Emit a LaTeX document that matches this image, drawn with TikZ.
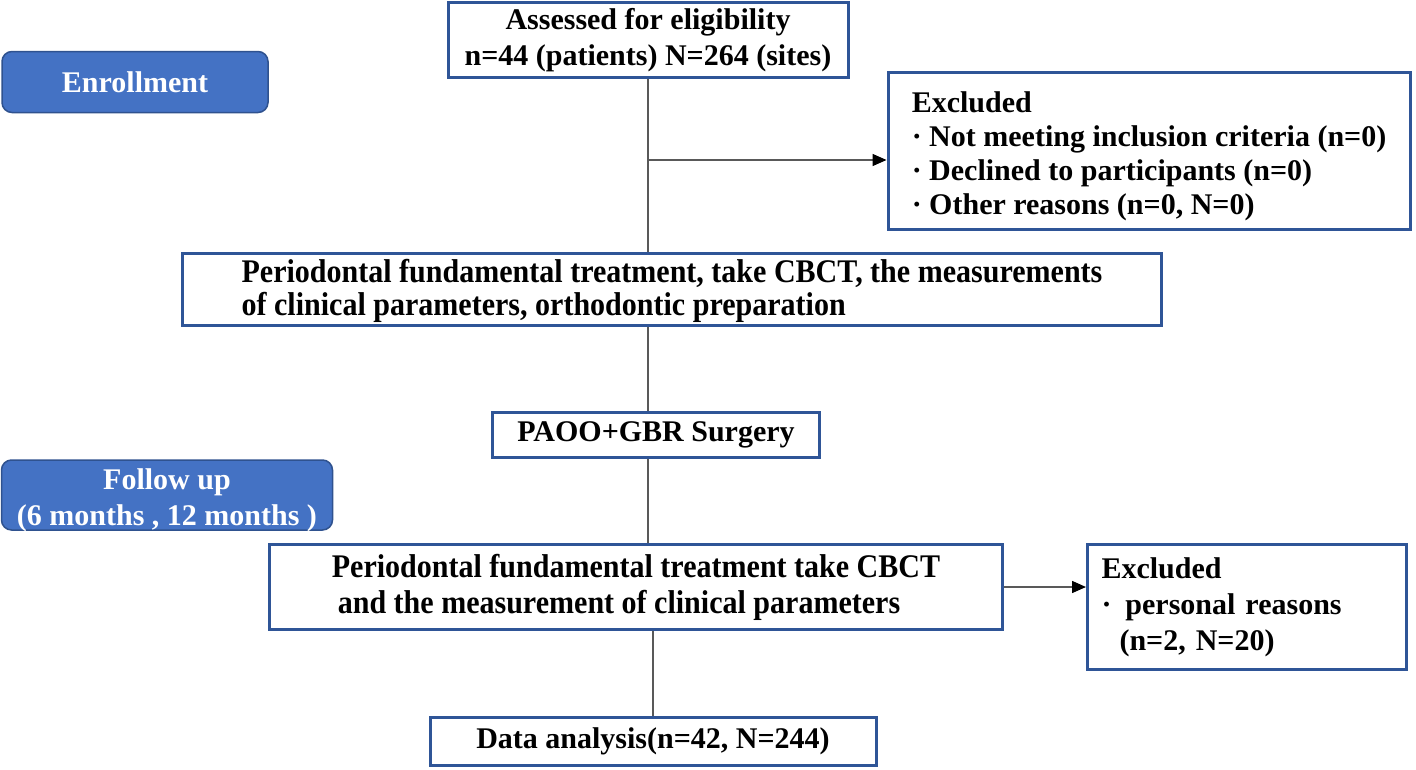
\documentclass[tikz,border=0pt]{standalone}
\usepackage{fontspec}
\setmainfont{Liberation Serif}
\newfontfamily\narrowfont[FakeStretch=0.91]{Liberation Serif}
\usetikzlibrary{arrows.meta}
\definecolor{boxblue}{HTML}{2F5597}
\definecolor{tagblue}{HTML}{4472C4}
\definecolor{tagedge}{HTML}{2F528F}
\definecolor{linegray}{HTML}{595959}
\newcommand{\lowered}[2]{\raisebox{-#1}[\height][\depth]{#2}}
\begin{document}
\begin{tikzpicture}[x=1pt,y=-1pt,
   font=\fontsize{30}{36}\selectfont\bfseries,
   stage/.style={draw=boxblue,line width=3pt,inner sep=0pt},
   tag/.style={draw=tagedge,fill=tagblue,line width=1.5pt,rounded corners=10pt,
      text=white,align=center,inner sep=0pt},
   link/.style={draw=linegray,line width=1.5pt},
   go/.style={link,-{Triangle[length=14pt,width=12pt,color=black]}}]
   \useasboundingbox (0,0) rectangle (1416,769);
   % Stage tags
   \node[tag,minimum width=266pt,minimum height=61pt] (enroll) at (135,82) {Enrollment};
   \node[tag,minimum width=331pt,minimum height=70pt] (follow) at (167,495)
      {\lowered{5pt}{Follow up}\\\lowered{5pt}{(6 months , 12 months )}};
   % Boxes
   \node[stage,minimum width=400pt,minimum height=75pt,align=center] (assess) at (648,40)
      {Assessed for eligibility\\n=44 (patients) N=264 (sites)};
   \node[stage,minimum width=522pt,minimum height=157pt,align=left,
      font=\fontsize{30}{34}\selectfont\bfseries] (excl1) at (1149,151)
      {\lowered{5pt}{Excluded}\\\lowered{5pt}{· Not meeting inclusion criteria (n=0)}\\
       \lowered{5pt}{· Declined to participants (n=0)}\\\lowered{5pt}{· Other reasons (n=0, N=0)}};
   \node[stage,minimum width=979pt,minimum height=72pt,align=left,
      font=\fontsize{33}{33}\narrowfont\bfseries] (prep) at (672,289)
      {\lowered{2pt}{Periodontal fundamental treatment, take CBCT, the measurements}\\
       \lowered{2pt}{of clinical parameters, orthodontic preparation}};
   \node[stage,minimum width=327pt,minimum height=45pt] (paoo) at (656,435) {PAOO+GBR Surgery};
   \node[stage,minimum width=733pt,minimum height=85pt,align=left,
      font=\fontsize{33}{36}\narrowfont\bfseries] (meas) at (636,587)
      {Periodontal fundamental treatment take CBCT\\\hspace{6pt}and the measurement of clinical parameters};
   \node[stage,minimum width=319pt,minimum height=125pt,align=left,
      text width=291pt] (excl2) at (1247,607)
      {Excluded\\·\hspace{14pt}personal reasons\\\hspace{18pt}(n=2, N=20)};
   \node[stage,minimum width=446pt,minimum height=48pt] (data) at (653,741) {Data analysis(n=42, N=244)};
   % Connectors
   \coordinate (branch) at (assess.south |- 0,160);
   \draw[link] (assess.south) -- (assess.south |- prep.north);
   \draw[go] (branch) -- (branch -| excl1.west);
   \draw[link] (assess.south |- prep.south) -- (assess.south |- paoo.north);
   \draw[link] (assess.south |- paoo.south) -- (assess.south |- meas.north);
   \draw[link] (data.north |- meas.south) -- (data.north);
   \draw[go] (meas.east) -- (meas.east -| excl2.west);
\end{tikzpicture}
\end{document}
